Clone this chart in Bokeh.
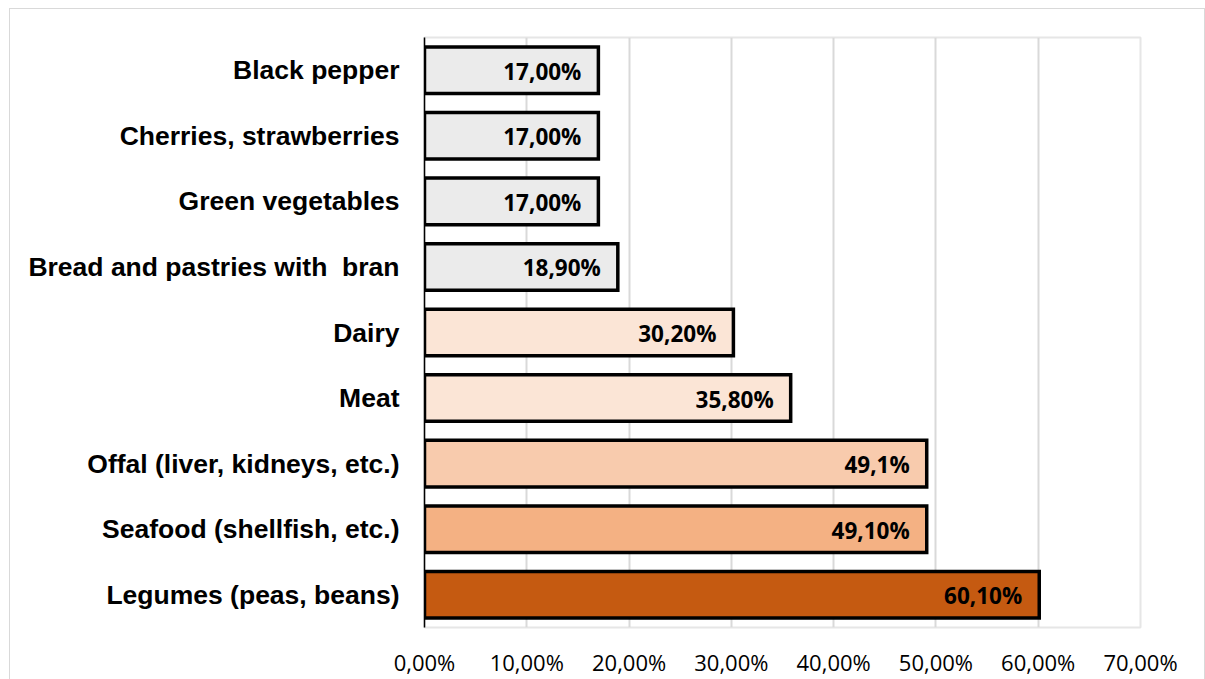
from bokeh.plotting import figure
from bokeh.models import (ColumnDataSource, FactorRange, Range1d, FixedTicker,
                          CustomJSTickFormatter, InlineStyleSheet)
from bokeh.core.properties import value
from bokeh.embed import file_html
from bokeh.resources import INLINE

# Foods, listed from the top of the chart downwards
foods = [
    "Black pepper",
    "Cherries, strawberries",
    "Green vegetables",
    "Bread and pastries with \u00a0bran",
    "Dairy",
    "Meat",
    "Offal (liver, kidneys, etc.)",
    "Seafood (shellfish, etc.)",
    "Legumes (peas, beans)",
]
shares = [17.0, 17.0, 17.0, 18.9, 30.2, 35.8, 49.1, 49.1, 60.1]
share_labels = ["17,00%", "17,00%", "17,00%", "18,90%", "30,20%",
                "35,80%", "49,1%", "49,10%", "60,10%"]
x_ticks = [0, 10, 20, 30, 40, 50, 60, 70]

fills = ["#ebebeb", "#ebebeb", "#ebebeb", "#ebebeb",
         "#fbe5d6", "#fbe5d6", "#f8cbad", "#f4b183", "#c55a11"]

src = ColumnDataSource(dict(food=foods, share=shares, label=share_labels,
                            fill=fills))

p = figure(width=1205, height=679, output_backend="svg", toolbar_location=None,
           y_range=FactorRange(factors=foods[::-1], range_padding=0),
           x_range=Range1d(0, 70),
           min_border_left=424, min_border_right=65,
           min_border_top=37, min_border_bottom=47)

p.background_fill_color = "white"
p.border_fill_color = "white"
p.outline_line_color = "#e6e6e6"
p.outline_line_width = 2

# light frame around the chart area (left, top and right edges)
p.stylesheets = [InlineStyleSheet(css="""
:host::after {
  content: "";
  position: absolute;
  left: 9px; top: 8px; right: 0px; bottom: 0px;
  border-left: 1px solid #d9d9d9;
  border-top: 1px solid #d9d9d9;
  border-right: 1px solid #d9d9d9;
  pointer-events: none;
}
""")]

# gridlines
p.ygrid.grid_line_color = None
p.xgrid.grid_line_color = "#d9d9d9"
p.xgrid.grid_line_width = 2

p.hbar(y="food", right="share", left=0, height=0.71, source=src,
       fill_color="fill", line_color="black", line_width=3.5,
       line_join="miter")

p.text(x="share", y="food", text="label", source=src,
       text_align="right", text_baseline="middle", x_offset=-17, y_offset=1,
       text_font=value("Open Sans"), text_font_style="bold",
       text_font_size="22.5px", text_color="black")

# category axis
ya = p.yaxis[0]
ya.axis_line_color = "black"
ya.axis_line_width = 1.5
ya.major_tick_line_color = None
ya.minor_tick_line_color = None
ya.major_tick_out = 0
ya.major_tick_in = 0
ya.major_label_standoff = 25
ya.major_label_text_font = "Liberation Sans"
ya.major_label_text_font_style = "bold"
ya.major_label_text_font_size = "26.5px"
ya.major_label_text_color = "black"

# percentage axis
xa = p.xaxis[0]
xa.ticker = FixedTicker(ticks=x_ticks)
xa.formatter = CustomJSTickFormatter(
    code="return tick.toFixed(2).replace('.', ',') + '%';")
xa.axis_line_color = None
xa.major_tick_line_color = None
xa.minor_tick_line_color = None
xa.major_tick_out = 0
xa.major_tick_in = 0
xa.major_label_standoff = 19
xa.major_label_text_font = "Open Sans"
xa.major_label_text_font_size = "22px"
xa.major_label_text_color = "black"

open("out.html", "w").write(file_html(p, INLINE))
